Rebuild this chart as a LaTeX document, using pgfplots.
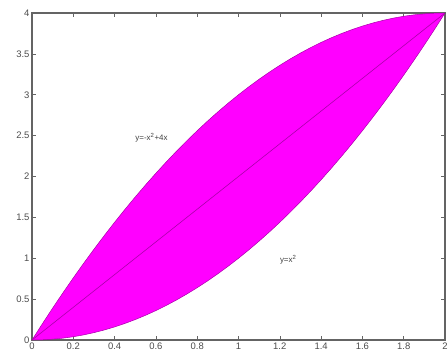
\documentclass[border=0pt]{standalone}
\usepackage{pgfplots}
\pgfplotsset{compat=1.18}
\usepgfplotslibrary{fillbetween}
\usepackage{fontspec}
\setmainfont{Liberation Sans}
\definecolor{fillc}{RGB}{255,0,255}
\definecolor{edgec}{RGB}{170,0,170}
\definecolor{axc}{RGB}{100,100,100}
\begin{document}
\begin{tikzpicture}
\begin{axis}[name=ax,
  scale only axis, width=413bp, height=327bp,
  xmin=0, xmax=2, ymin=0, ymax=4,
  xtick={0,0.2,...,2}, ytick={0,0.5,...,4},
  tick align=inside, major tick length=4bp,
  axis line style={axc, line width=1.2pt},
  tick style={axc, line width=0.6pt},
  ticklabel style={font=\fontsize{9.5}{10}\selectfont, text=black!70},
  /pgf/number format/assume math mode=true,
  xticklabel style={yshift=1bp},
  yticklabel style={xshift=1bp},
  clip=false,
]
\addplot[name path=up, draw=edgec, line width=0.5pt] coordinates {
(0,0) (0.05,0.1975) (0.1,0.39) (0.15,0.5775) (0.2,0.76) (0.25,0.9375) (0.3,1.11) (0.35,1.2775) (0.4,1.44) (0.45,1.5975) (0.5,1.75) (0.55,1.8975) (0.6,2.04) (0.65,2.1775) (0.7,2.31) (0.75,2.4375) (0.8,2.56) (0.85,2.6775) (0.9,2.79) (0.95,2.8975) (1,3) (1.05,3.0975) (1.1,3.19) (1.15,3.2775) (1.2,3.36) (1.25,3.4375) (1.3,3.51) (1.35,3.5775) (1.4,3.64) (1.45,3.6975) (1.5,3.75) (1.55,3.7975) (1.6,3.84) (1.65,3.8775) (1.7,3.91) (1.75,3.9375) (1.8,3.96) (1.85,3.9775) (1.9,3.99) (1.95,3.9975) (2,4)};
\addplot[name path=lo, draw=edgec, line width=0.5pt] coordinates {
(0,0) (0.05,0.0025) (0.1,0.01) (0.15,0.0225) (0.2,0.04) (0.25,0.0625) (0.3,0.09) (0.35,0.1225) (0.4,0.16) (0.45,0.2025) (0.5,0.25) (0.55,0.3025) (0.6,0.36) (0.65,0.4225) (0.7,0.49) (0.75,0.5625) (0.8,0.64) (0.85,0.7225) (0.9,0.81) (0.95,0.9025) (1,1) (1.05,1.1025) (1.1,1.21) (1.15,1.3225) (1.2,1.44) (1.25,1.5625) (1.3,1.69) (1.35,1.8225) (1.4,1.96) (1.45,2.1025) (1.5,2.25) (1.55,2.4025) (1.6,2.56) (1.65,2.7225) (1.7,2.89) (1.75,3.0625) (1.8,3.24) (1.85,3.4225) (1.9,3.61) (1.95,3.8025) (2,4)};
\addplot[fill=fillc, draw=none] fill between[of=up and lo];
\addplot[draw=edgec, line width=0.6pt] coordinates {(0,0) (1,2) (2,4)};
\node[anchor=west, inner sep=0pt, font=\fontsize{8}{9}\selectfont, text=black!75] at (axis cs:0.5,2.47) {y=-x\textsuperscript{2}+4x};
\node[anchor=west, inner sep=0pt, font=\fontsize{8}{9}\selectfont, text=black!75] at (axis cs:1.2,0.98) {y=x\textsuperscript{2}};
\end{axis}
\pgfresetboundingbox
\path ([xshift=-32bp,yshift=-17bp]ax.south west) rectangle ([xshift=3bp,yshift=13bp]ax.north east);
\end{tikzpicture}
\end{document}
